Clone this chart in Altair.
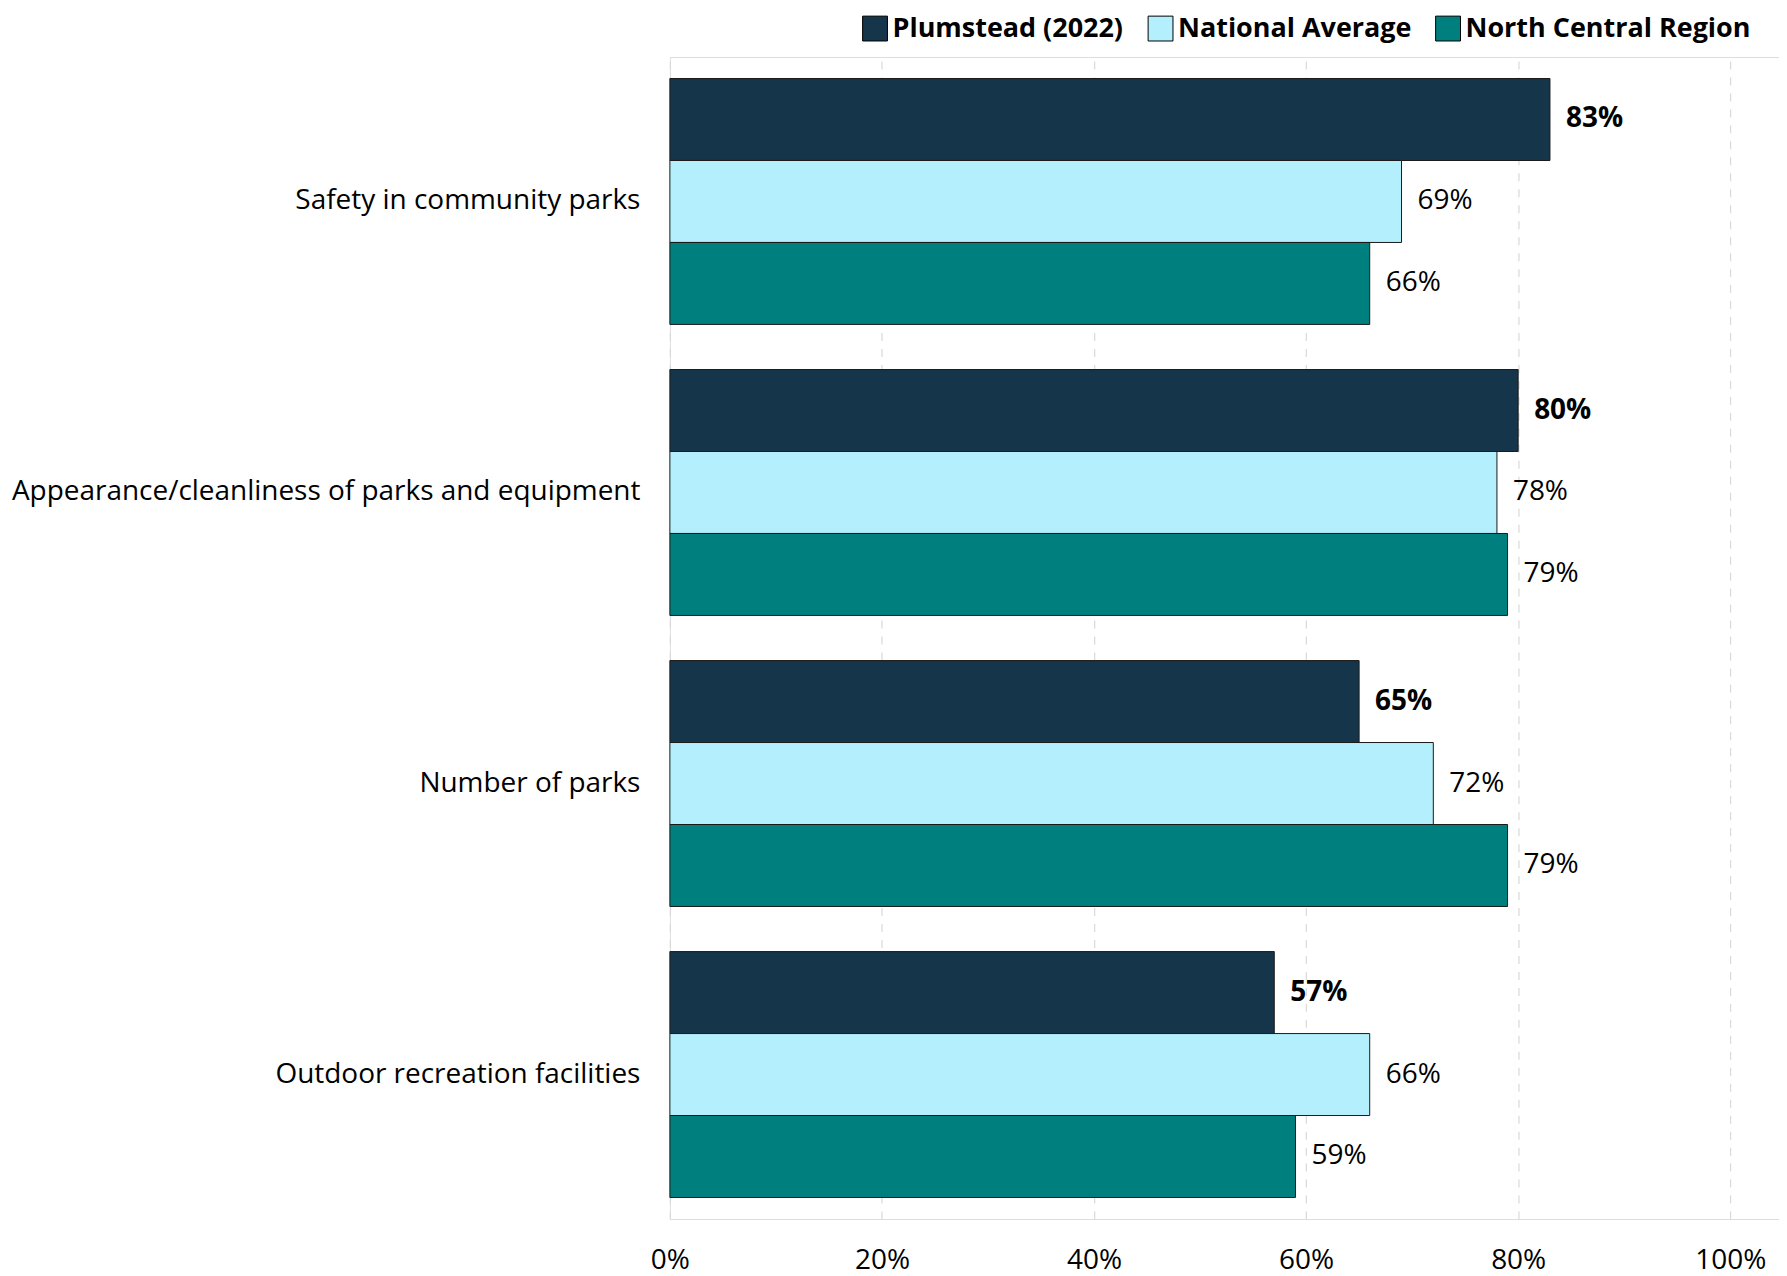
import altair as alt
import pandas as pd

categories = ["Safety in community parks",
              "Appearance/cleanliness of parks and equipment",
              "Number of parks",
              "Outdoor recreation facilities"]
series = ["Plumstead (2022)", "National Average", "North Central Region"]
plumstead = [0.83, 0.80, 0.65, 0.57]
national = [0.69, 0.78, 0.72, 0.66]
north_central = [0.66, 0.79, 0.79, 0.59]
x_ticks = [0, 0.2, 0.4, 0.6, 0.8, 1.0]
colors = ["#15354A", "#B3EFFC", "#007F7F"]

rows = []
for i, c in enumerate(categories):
    for s, vals in zip(series, [plumstead, national, north_central]):
        rows.append({"category": c, "series": s, "value": vals[i]})
df = pd.DataFrame(rows)

FONT = "Open Sans"
FS = 28

y_enc = alt.Y("category:N", sort=categories, title=None,
              scale=alt.Scale(paddingInner=0.155, paddingOuter=0.074),
              axis=alt.Axis(labelFontSize=FS, labelColor="#000000", labelFont=FONT,
                            ticks=False, domain=False, labelPadding=30, labelLimit=800))
yoff = alt.YOffset("series:N", sort=series)
x_enc = alt.X("value:Q", title=None,
              scale=alt.Scale(domain=[0, 1.046], nice=False, zero=True),
              axis=alt.Axis(format=".0%", values=x_ticks, labelFontSize=FS, labelFont=FONT,
                            labelColor="#000000", ticks=False, domain=False,
                            labelPadding=28, grid=True, gridDash=[8, 8],
                            gridColor="#D9D9D9", gridWidth=1.2,
                            labelFlush=False))

bars = alt.Chart(df).mark_bar(stroke="#1a1a1a", strokeWidth=1).encode(
    y=y_enc, yOffset=yoff, x=x_enc,
    color=alt.Color("series:N", sort=series,
                    scale=alt.Scale(domain=series, range=colors),
                    legend=alt.Legend(title=None, orient="none", direction="horizontal",
                                      legendX=192, legendY=-42,
                                      symbolType="square", symbolSize=620,
                                      symbolStrokeColor="#000000", symbolStrokeWidth=1,
                                      labelFontSize=27, labelFontWeight="bold",
                                      labelFont=FONT, labelColor="#000000",
                                      labelOffset=4, columnPadding=22,
                                      labelLimit=400))
)

labels_bold = alt.Chart(df).transform_filter(
    alt.datum.series == series[0]
).mark_text(align="left", baseline="middle", dx=16, fontSize=FS,
            fontWeight="bold", font=FONT, color="#000000").encode(
    y=alt.Y("category:N", sort=categories), yOffset=yoff,
    x=alt.X("value:Q"), text=alt.Text("value:Q", format=".0%"))

labels_reg = alt.Chart(df).transform_filter(
    alt.datum.series != series[0]
).mark_text(align="left", baseline="middle", dx=16, fontSize=FS,
            font=FONT, color="#000000").encode(
    y=alt.Y("category:N", sort=categories), yOffset=yoff,
    x=alt.X("value:Q"), text=alt.Text("value:Q", format=".0%"))

chart = alt.layer(bars, labels_bold, labels_reg).properties(
    width=1111, height=1164,
    padding={"left": 3, "right": 0, "top": 6, "bottom": 0}
).configure_view(stroke="#404040", strokeWidth=1.5).configure(background="white")

chart.save("out.html", embed_options={"renderer": "svg", "actions": False})
